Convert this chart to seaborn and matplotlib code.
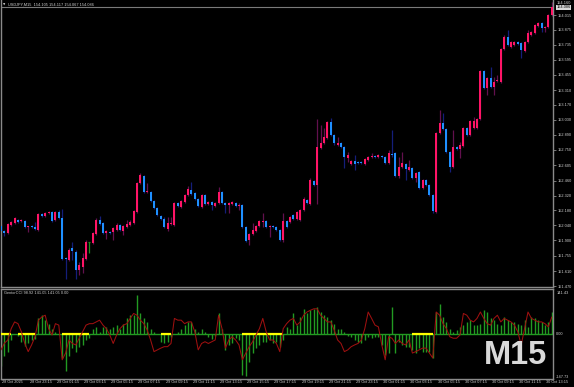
import numpy as np
import pandas as pd
import matplotlib
matplotlib.use("Agg")
import matplotlib.pyplot as plt
import matplotlib.transforms as mtransforms
import seaborn as sns

# ---------------- data (USDJPY M15) ----------------
opens = [152.034, 151.987, 151.968, 152.043, 152.062, 152.090, 152.081, 152.081, 152.024, 152.034,
         152.024, 151.996, 152.146, 152.128, 152.156, 152.165, 152.090, 152.165, 152.109, 151.733,
         151.714, 151.827, 151.790, 151.620, 151.649, 151.724, 151.883, 151.874, 151.958, 152.090,
         152.062, 151.968, 151.977, 151.977, 151.996, 152.043, 151.987, 152.024, 152.043, 152.062,
         152.165, 152.437, 152.503, 152.353, 152.353, 152.268, 152.203, 152.128, 152.099, 152.005,
         152.052, 152.043, 152.250, 152.212, 152.259, 152.325, 152.372, 152.344, 152.287, 152.212,
         152.325, 152.240, 152.259, 152.221, 152.250, 152.353, 152.250, 152.231, 152.240, 152.250,
         152.221, 152.231, 152.024, 151.902, 151.958, 151.987, 152.034, 152.071, 152.081, 152.024,
         152.034, 152.024, 151.996, 151.902, 152.081, 152.071, 152.137, 152.099, 152.090, 152.184,
         152.278, 152.240, 152.456, 152.419, 152.766, 152.813, 152.860, 153.010, 152.888, 152.794,
         152.813, 152.776, 152.672, 152.616, 152.644, 152.635, 152.635, 152.616, 152.653, 152.682,
         152.691, 152.682, 152.691, 152.682, 152.625, 152.710, 152.719, 152.503, 152.588, 152.616,
         152.560, 152.578, 152.484, 152.541, 152.390, 152.466, 152.419, 152.325, 152.165, 152.907,
         153.001, 152.945, 152.729, 152.588, 152.776, 152.757, 152.785, 152.954, 152.888, 152.954,
         152.954, 153.039, 153.489, 153.330, 153.424, 153.339, 153.395, 153.386, 153.696, 153.809,
         153.715, 153.733, 153.762, 153.752, 153.677, 153.762, 153.827, 153.846, 153.912, 153.940,
         153.893, 153.902, 154.015]
highs = [152.052, 151.996, 152.062, 152.081, 152.118, 152.099, 152.099, 152.090, 152.034, 152.043,
         152.071, 152.156, 152.156, 152.165, 152.175, 152.175, 152.175, 152.184, 152.193, 151.742,
         151.827, 151.883, 151.808, 151.696, 151.780, 151.902, 151.883, 151.977, 152.109, 152.128,
         152.071, 151.996, 151.987, 152.024, 152.062, 152.052, 152.043, 152.090, 152.090, 152.184,
         152.447, 152.531, 152.513, 152.437, 152.362, 152.278, 152.212, 152.137, 152.118, 152.118,
         152.118, 152.259, 152.259, 152.278, 152.334, 152.409, 152.447, 152.353, 152.297, 152.334,
         152.334, 152.268, 152.268, 152.259, 152.400, 152.362, 152.259, 152.259, 152.268, 152.259,
         152.250, 152.240, 152.034, 151.968, 152.062, 152.043, 152.090, 152.156, 152.090, 152.043,
         152.043, 152.034, 152.005, 152.156, 152.090, 152.128, 152.146, 152.175, 152.193, 152.306,
         152.287, 152.484, 152.466, 153.039, 152.982, 152.954, 153.020, 153.048, 152.898, 152.869,
         152.822, 152.785, 152.729, 152.653, 152.700, 152.644, 152.644, 152.672, 152.691, 152.719,
         152.700, 152.710, 152.700, 152.691, 152.747, 152.935, 152.729, 152.682, 152.729, 152.625,
         152.653, 152.588, 152.541, 152.550, 152.475, 152.475, 152.428, 152.334, 152.916, 153.123,
         153.095, 152.954, 152.738, 152.935, 152.785, 152.822, 152.963, 152.963, 153.029, 153.057,
         153.048, 153.499, 153.499, 153.433, 153.527, 153.433, 153.452, 153.705, 153.827, 153.874,
         153.771, 153.771, 153.771, 153.762, 153.771, 153.874, 153.865, 153.931, 153.949, 153.949,
         153.912, 154.025, 154.137]
lows = [151.977, 151.940, 151.958, 152.034, 152.052, 152.062, 152.071, 152.015, 151.977, 152.015,
        151.996, 151.987, 152.118, 152.118, 152.146, 152.071, 152.081, 152.099, 151.714, 151.536,
        151.705, 151.714, 151.536, 151.573, 151.592, 151.714, 151.780, 151.865, 151.949, 152.043,
        151.958, 151.912, 151.958, 151.902, 151.987, 151.987, 151.949, 152.015, 152.034, 152.052,
        152.156, 152.428, 152.344, 152.344, 152.259, 152.193, 152.128, 152.090, 152.015, 151.987,
        152.043, 152.034, 152.212, 152.203, 152.250, 152.315, 152.325, 152.278, 152.212, 152.203,
        152.231, 152.231, 152.184, 152.212, 152.240, 152.240, 152.156, 152.156, 152.231, 152.212,
        152.184, 152.015, 151.883, 151.855, 151.949, 151.977, 152.024, 152.024, 152.015, 151.930,
        152.015, 151.987, 151.893, 151.883, 152.015, 152.062, 152.090, 152.090, 152.081, 152.175,
        152.240, 152.231, 152.409, 152.240, 152.757, 152.804, 152.851, 152.879, 152.794, 152.785,
        152.766, 152.578, 152.635, 152.606, 152.560, 152.616, 152.616, 152.606, 152.644, 152.672,
        152.672, 152.672, 152.672, 152.616, 152.616, 152.682, 152.494, 152.484, 152.578, 152.466,
        152.550, 152.475, 152.447, 152.381, 152.381, 152.409, 152.315, 152.156, 152.156, 152.898,
        152.935, 152.719, 152.541, 152.578, 152.747, 152.672, 152.776, 152.879, 152.879, 152.945,
        152.945, 153.029, 153.320, 153.264, 153.330, 153.264, 153.386, 153.377, 153.686, 153.724,
        153.705, 153.724, 153.733, 153.611, 153.668, 153.752, 153.818, 153.837, 153.902, 153.856,
        153.856, 153.893, 154.006]
closes = [151.987, 151.968, 152.052, 152.071, 152.109, 152.071, 152.090, 152.024, 152.034, 152.024,
          152.005, 152.146, 152.128, 152.156, 152.165, 152.081, 152.165, 152.109, 151.724, 151.724,
          151.808, 151.799, 151.620, 151.667, 151.733, 151.883, 151.883, 151.968, 152.090, 152.052,
          151.968, 151.987, 151.968, 152.015, 152.043, 151.996, 152.034, 152.052, 152.071, 152.175,
          152.437, 152.513, 152.353, 152.362, 152.268, 152.203, 152.137, 152.099, 152.024, 152.062,
          152.062, 152.250, 152.221, 152.268, 152.325, 152.381, 152.334, 152.287, 152.221, 152.325,
          152.240, 152.259, 152.231, 152.250, 152.353, 152.250, 152.231, 152.250, 152.259, 152.221,
          152.231, 152.024, 151.893, 151.958, 151.996, 152.034, 152.081, 152.081, 152.024, 152.034,
          152.024, 151.996, 151.902, 152.081, 152.024, 152.118, 152.099, 152.165, 152.184, 152.287,
          152.250, 152.466, 152.419, 152.776, 152.813, 152.869, 153.010, 152.888, 152.813, 152.813,
          152.776, 152.682, 152.700, 152.644, 152.616, 152.625, 152.625, 152.663, 152.682, 152.691,
          152.682, 152.700, 152.682, 152.625, 152.719, 152.700, 152.503, 152.588, 152.625, 152.569,
          152.588, 152.484, 152.531, 152.390, 152.466, 152.419, 152.325, 152.175, 152.907, 153.001,
          152.945, 152.729, 152.588, 152.776, 152.757, 152.794, 152.954, 152.888, 153.020, 153.020,
          153.039, 153.489, 153.330, 153.424, 153.339, 153.386, 153.405, 153.696, 153.809, 153.733,
          153.762, 153.762, 153.743, 153.686, 153.762, 153.846, 153.856, 153.921, 153.940, 153.893,
          153.902, 154.015, 154.090]

cci_hist = [-110, -75, -60, -20, 3, -5, -25, -40, -30, -20,
            -15, 55, 66, 48, 37, 20, 9, 0, -81, -127,
            -75, -47, -59, -42, -36, -20, -13, 20, 26, 9,
            26, 26, 20, 26, 32, 20, 37, 55, 66, 66,
            134, 72, 55, 43, 20, 9, 3, -25, -30, -25,
            -10, 3, 9, 20, 32, 43, 43, 20, 9, 20,
            9, -10, -15, -5, 72, 20, -53, -36, -30, -13,
            -19, -138, -144, -93, -64, -47, -36, -25, -25, -19,
            -30, -25, -42, -19, 26, 20, 72, 32, 60, 88,
            72, 83, 88, 94, 77, 66, 60, 49, 37, 20,
            20, 9, -5, -8, -19, -25, -30, -19, -8, -13,
            -8, -8, -36, -70, -64, 94, -64, -25, -36, -42,
            -42, -53, -64, -47, -59, -59, -59, -81, 77, 105,
            60, 43, 20, 9, 15, 26, 32, 43, 49, 32,
            32, 37, 83, 77, 55, 49, 37, 32, 60, 49,
            43, 43, 37, 32, 49, 26, 60, 55, 49, 43,
            32, 43, 77]
cci_line = [-53, -30, -19, 20, 43, 37, 9, -31, -59, -36,
            -8, 49, 60, 66, 20, -2, 37, 32, -87, -64,
            -19, -31, -36, -13, 9, 32, 37, 37, 43, 49,
            32, 20, -2, -31, -2, 20, 32, 37, 55, 72,
            66, 49, 37, 15, -19, -59, -53, -47, -42, -42,
            -31, 55, 49, 49, 37, 43, 43, 9, -53, -31,
            -25, -31, -25, -19, 66, 20, -47, -19, -8, -19,
            -36, -87, -64, -42, -25, -2, 20, 55, 9, -19,
            -19, -31, -59, 20, 37, 49, 55, 32, 43, 66,
            77, 83, 88, 88, 66, 55, 43, 43, 15, -19,
            -31, -59, -53, -42, -36, -31, -19, 20, 77, 55,
            32, 26, -36, -87, -8, -13, -31, -19, -31, -36,
            -19, -64, -59, -53, -47, -47, -64, -81, 77, 66,
            37, 20, -8, -13, -13, -2, 72, 66, 49, 43,
            55, 77, 55, 37, 32, 55, 66, 43, 55, 49,
            43, 32, 9, -36, 20, 77, 55, 49, 43, 43,
            37, 26, 60]
yellow_spans = [(0, 3), (5, 10), (18, 26), (47, 50), (71, 83), (121, 127)]

price_ticks = [154.015, 153.875, 153.735, 153.595, 153.455, 153.310, 153.170, 153.030,
               152.890, 152.750, 152.605, 152.460, 152.320, 152.180, 152.040, 151.900,
               151.755, 151.610, 151.470]
time_labels = ["28 Oct 2025", "28 Oct 23:15", "29 Oct 01:15", "29 Oct 03:15", "29 Oct 05:15",
               "29 Oct 07:15", "29 Oct 09:15", "29 Oct 11:15", "29 Oct 13:15", "29 Oct 15:15",
               "29 Oct 17:15", "29 Oct 19:15", "29 Oct 21:15", "29 Oct 23:15", "30 Oct 01:15",
               "30 Oct 03:15", "30 Oct 05:15", "30 Oct 07:15", "30 Oct 09:15", "30 Oct 11:15",
               "30 Oct 13:15"]
bars_per_label = 8
bid_price = 154.086
top_label = 154.160
title_text = "USDJPY,M15  154.105 154.117 154.067 154.086"
ind_text = "GentorCCI 98.92 141.05 141.05 0.00"
ind_max, ind_min = 141.43, -147.73

# ---------------- style ----------------
sns.set_style("dark", {"axes.facecolor": "black", "figure.facecolor": "black"})
plt.rcParams["font.family"] = ["Liberation Sans", "DejaVu Sans"]

BG = "black"
PINK = "#ff1466"
BLUE = "#1e90ff"
PINK_WICK = "#62104e"
BLUE_WICK = "#141e7a"
DOJI = "#1f8f1f"
GREEN = "#229a22"
AXC = "#8a8a8a"
TXT = "#d0d0d0"
FS = 2.8

W, H = 574, 387
fig = plt.figure(figsize=(W / 100, H / 100), dpi=100, facecolor=BG)
ax1 = fig.add_axes([1 / W, 1 - 287 / H, 552 / W, 287 / H])
ax2 = fig.add_axes([1 / W, 1 - 379 / H, 552 / W, (379 - 289) / H])

O = np.array(opens); Hh = np.array(highs); L = np.array(lows); C = np.array(closes)
n = len(O)
x = np.arange(n)
up = C > O
dn = C < O
dj = C == O

# ---- candles ----
wick_col = np.where(up, PINK_WICK, np.where(dn, BLUE_WICK, DOJI))
ax1.vlines(x, L, Hh, colors=wick_col, lw=0.9, zorder=2)
body = np.abs(C - O)
body_disp = np.maximum(body, 0.007)
bottom = np.minimum(O, C)
ax1.bar(x[up], body_disp[up], bottom=bottom[up], width=0.62, color=PINK, lw=0, zorder=3)
ax1.bar(x[dn], body_disp[dn], bottom=bottom[dn], width=0.62, color=BLUE, lw=0, zorder=3)
ax1.hlines(C[dj], x[dj] - 0.31, x[dj] + 0.31, color=DOJI, lw=0.9, zorder=3)

ax1.axhline(bid_price, color="#7a7a7a", lw=0.8, zorder=1)

ymax = 154.156
ymin = ymax - 287 * 0.009391
ax1.set_ylim(ymin, ymax)
ax1.set_xlim(0, 552 / 3.4)
ax1.yaxis.tick_right()
ax1.set_yticks(price_ticks)
ax1.set_yticklabels([f"{v:.3f}" for v in price_ticks])
ax1.tick_params(axis="y", colors=AXC, labelcolor=TXT, labelsize=FS, length=2, width=0.6, pad=1.5)
ax1.set_xticks([])
ax1.spines["top"].set_visible(False)
for s in ["left", "right", "bottom"]:
    ax1.spines[s].set_color(AXC)
    ax1.spines[s].set_linewidth(1.0)
ax1.grid(False)

trp = mtransforms.blended_transform_factory(ax1.transAxes, ax1.transData)
fig.text(557 / W, 1 - 0.6 / H, f"{top_label:.3f}", color=TXT, fontsize=FS, va="top", ha="left")
ax1.text(1.006, bid_price, f"{bid_price:.3f}", transform=trp,
         color="black", fontsize=FS, va="center", ha="left",
         bbox=dict(boxstyle="square,pad=0.15", fc="#d8d8d8", ec="none"), clip_on=False, zorder=5)

fig.text(3 / W, 1 - 4.5 / H, "\u25BC", color=TXT, fontsize=2.2, va="center", ha="left", family="DejaVu Sans")
fig.text(8 / W, 1 - 4.5 / H, title_text, color=TXT, fontsize=FS, va="center", ha="left")

# ---- indicator ----
ax2.axhline(0, color=GREEN, lw=1.0, zorder=1)
ax2.vlines(x, 0, cci_hist, colors=GREEN, lw=1.0, zorder=2)
for s, e in yellow_spans:
    ax2.hlines(0, s, e, color="#ffff00", lw=1.6, zorder=3)
df = pd.DataFrame({"bar": x, "cci": cci_line})
sns.lineplot(data=df, x="bar", y="cci", ax=ax2, color="#9e1010", lw=0.75, zorder=4)
ax2.set_xlim(0, 552 / 3.4)
ax2.set_ylim(-153, 156)
ax2.set_xlabel(""); ax2.set_ylabel("")
ax2.yaxis.tick_right()
ax2.set_yticks([])
ax2.set_xticks(range(0, n, bars_per_label))
ax2.set_xticklabels([])
ax2.tick_params(axis="x", colors=AXC, length=2, width=0.6)
for s in ["left", "right", "bottom", "top"]:
    ax2.spines[s].set_color(AXC)
    ax2.spines[s].set_linewidth(1.0)
ax2.grid(False)

tr2 = mtransforms.blended_transform_factory(ax2.transAxes, ax2.transData)
for v in [ind_max, 0.0, ind_min]:
    ax2.text(1.006, v, f"{v:.2f}", transform=tr2, color=TXT, fontsize=FS, va="center", ha="left", clip_on=False)
ax2.text(0.005, ind_max, ind_text, transform=tr2, color=TXT, fontsize=FS, va="center", ha="left")

trx = mtransforms.blended_transform_factory(ax2.transData, ax2.transAxes)
for i, lab in enumerate(time_labels):
    ax2.text(i * bars_per_label + 0.4, -0.012, lab, transform=trx, color=TXT, fontsize=FS,
             va="top", ha="left", clip_on=False)

fig.text(516 / W, 1 - 356 / H, "M15", color="#d9d9d9", fontsize=23.5, fontweight="bold",
         va="center", ha="center")

fig.savefig("out.png", dpi=100, facecolor=BG)
